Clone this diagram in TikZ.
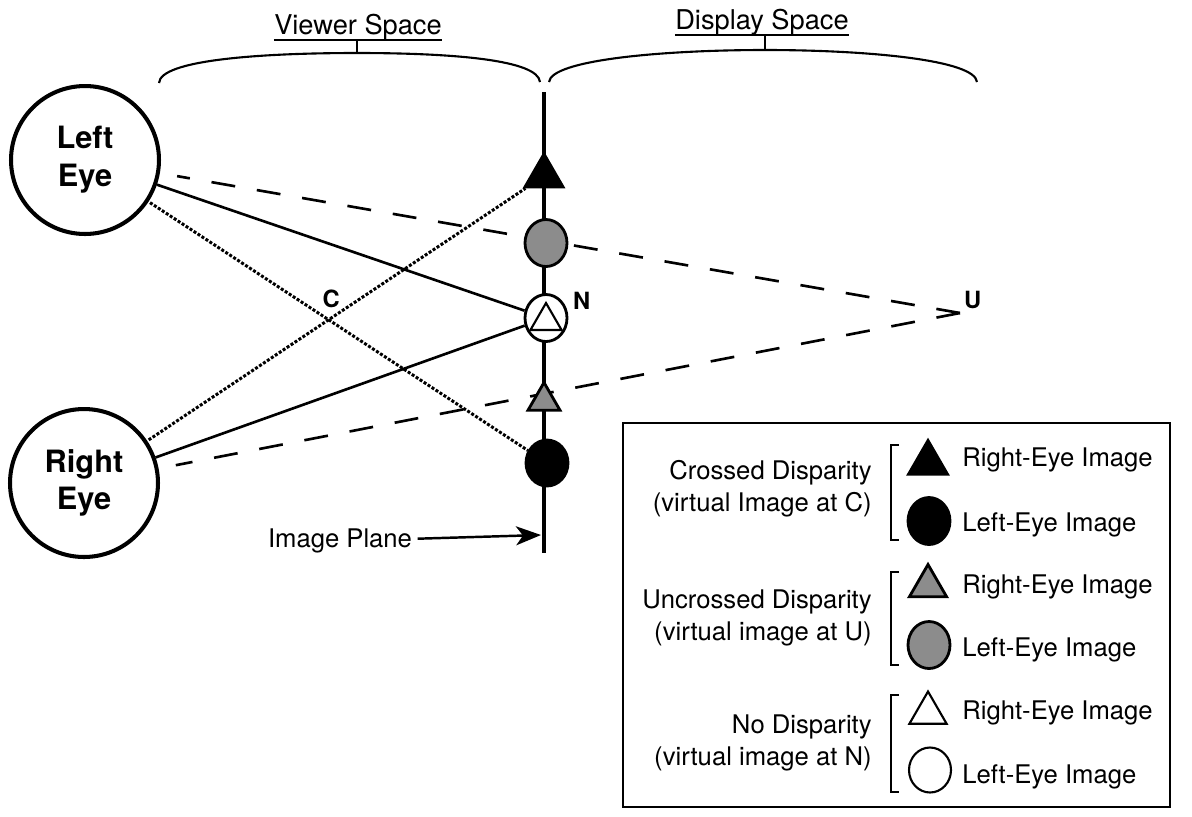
\documentclass[tikz,border=0pt]{standalone}
\usepackage{fontspec}
\setmainfont{TeX Gyre Heros}
\usetikzlibrary{shapes.geometric,arrows.meta,backgrounds}
\colorlet{dotgray}{black!45}
\tikzset{
  eye/.style={draw,circle,line width=2.3pt,minimum size=2.96cm,inner sep=0pt,align=center,
    font=\fontsize{17.5}{21.5}\selectfont\bfseries},
  tri/.style={regular polygon,regular polygon sides=3,inner sep=0pt,draw,line width=1.6pt,minimum size=#1},
  tri/.default=0.88cm,
  ell/.style={ellipse,inner sep=0pt,draw,line width=1.6pt,minimum width=0.84cm,minimum height=0.94cm},
  plane/.style={line width=2.3pt},
  ray/.style={line width=1.5pt},
  crossray/.style={line width=1.7pt,densely dotted,shorten <=1pt},
  farray/.style={line width=1.5pt,dash pattern=on 0.48cm off 0.44cm,shorten >=0.35cm},
  ptlbl/.style={inner sep=1pt,font=\fontsize{13.5}{16}\selectfont\bfseries},
  spacelbl/.style={inner sep=0pt,font=\fontsize{15.5}{18}\selectfont},
  brace/.style={line width=1.2pt},
  key/.style={inner sep=0pt,align=right,font=\fontsize{14.6}{18}\selectfont},
  bracket/.style={line width=1.2pt},
  pointer/.style={line width=1.4pt,-{Stealth[length=0.5cm,width=0.38cm,inset=0.14cm]}}
}
\begin{document}
\begin{tikzpicture}[x=0.02cm,y=-0.02cm]
  \useasboundingbox (0,0) rectangle (1192,816);

  \node[eye] (lefteye) at (85,160) {Left\\Eye};
  \node[eye] (righteye) at (84,483) {Right\\Eye};

  \node[tri,fill=black] (crossR) at (544,176) {};
  \node[ell,fill=dotgray] (uncrL) at (546,243) {};
  \node[ell,fill=white] (noneL) at (546,318) {};
  \node[tri=0.72cm,line width=1.2pt] (noneR) at (546,321) {};
  \node[tri=0.74cm,fill=dotgray] (uncrR) at (544,401) {};
  \node[ell,fill=black,minimum height=0.92cm] (crossL) at (547,463) {};
  \coordinate (U) at (960,313);
  \coordinate (ptop) at (544,92);
  \coordinate (pbot) at (544,553);
  \coordinate (ptip) at (541,535);
  \path (intersection of lefteye--crossL and righteye--crossR) coordinate (C);

  \begin{scope}[on background layer]
    \draw[plane] (ptop) -- (pbot);
    \draw[ray] (lefteye) -- (noneL);
    \draw[ray] (righteye) -- (noneL);
    \draw[crossray] (lefteye) -- (crossL);
    \draw[crossray] (righteye) -- (crossR);
    \draw[farray] (U) -- (lefteye);
    \draw[farray] (U) -- (righteye);
  \end{scope}

  \node[ptlbl,anchor=south] (Clbl) at ([xshift=0.05cm,yshift=0.2cm]C) {C};
  \node[ptlbl,anchor=west] (Nlbl) at (571,301) {N};
  \node[ptlbl,anchor=south west] (Ulbl) at (962,311) {U};

  \node[key,inner sep=3pt] (planelbl) at (340,541) {Image Plane};
  \draw[pointer] (planelbl) -- (ptip);

  \draw[brace] (159,83) .. controls (160,60) and (260,53) .. (357,53) coordinate (vmid)
    .. controls (454,53) and (538,60) .. (540,82);
  \node[spacelbl,anchor=base] (viewer) at (358,34) {Viewer Space};
  \draw[brace] (viewer.south west) -- (viewer.south east);
  \draw[brace] (vmid) -- (vmid |- viewer.south);
  \draw[brace] (549,82) .. controls (551,60) and (662,50) .. (765,50) coordinate (dmid)
    .. controls (868,50) and (975,60) .. (977,82);
  \node[spacelbl,anchor=base] (display) at (762,29) {Display Space};
  \draw[brace] (display.south west) -- (display.south east);
  \draw[brace] (dmid) -- (dmid |- display.south);

  \draw[line width=1.5pt] (623,423) rectangle (1170,807);
  \node[key,anchor=east] (crossed) at (872,489) {Crossed Disparity\\(virtual Image at C)};
  \node[key,anchor=east] (uncrossed) at (872,618) {Uncrossed Disparity\\(virtual image at U)};
  \node[key,anchor=east] (nodisp) at (872,743) {No Disparity\\(virtual image at N)};
  \foreach \t/\b in {445/540,572/665,695/792}
    \draw[bracket] (899,\t) -- (891,\t) -- (891,\b) -- (899,\b);
  \node[tri=0.9cm,fill=black] (keyCR) at (928,463) {};
  \node[ell,fill=black] (keyCL) at (929,521) {};
  \node[tri=0.86cm,fill=dotgray] (keyUR) at (928,586) {};
  \node[ell,fill=dotgray] (keyUL) at (929,645) {};
  \node[tri=0.86cm,line width=1.2pt] (keyNR) at (928,713) {};
  \node[ell,line width=1.2pt,minimum height=0.9cm] (keyNL) at (930,770) {};
  \foreach \r/\l [count=\i] in {460/525,587/650,713/777} {
    \node[key,anchor=west] (rimg\i) at (962,\r) {Right-Eye Image};
    \node[key,anchor=west] (limg\i) at (962,\l) {Left-Eye Image};
  }
\end{tikzpicture}
\end{document}
